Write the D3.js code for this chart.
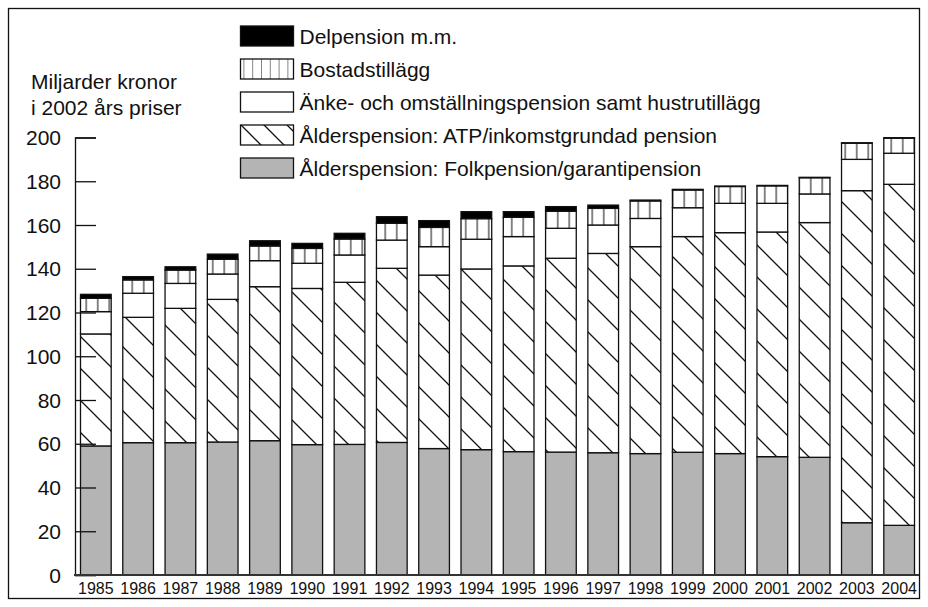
<html>
<head>
<meta charset="utf-8">
<script src="https://d3js.org/d3.v7.min.js"></script>
<style>
	body { margin: 0; background: white; }
	text { font-family: "Liberation Sans", Arial, Helvetica, sans-serif; fill: #111; }
</style>
</head>
<body>
<svg id="plot"></svg>
<script>

	// values, miljarder kronor (2002 prices)
	var years = ["1985","1986","1987","1988","1989","1990","1991","1992","1993","1994",
		"1995","1996","1997","1998","1999","2000","2001","2002","2003","2004"]

	var folkpension = [59.0, 60.5, 60.5, 60.8, 61.4, 59.6, 59.7, 60.6, 57.8, 57.3,
		56.4, 56.2, 55.9, 55.5, 56.1, 55.5, 54.1, 53.8, 23.9, 22.7]
	var atp = [51.2, 57.3, 61.4, 65.2, 70.4, 71.4, 74.1, 79.6, 79.3, 82.6,
		84.9, 88.6, 91.1, 94.6, 98.6, 101.0, 102.7, 107.3, 151.8, 155.9]
	var anke = [10.2, 11.0, 11.4, 11.6, 11.9, 11.5, 12.5, 12.9, 13.0, 13.6,
		13.4, 13.7, 13.0, 12.9, 13.2, 13.4, 13.1, 13.1, 14.3, 14.2]
	var bostad = [6.1, 6.1, 6.1, 6.7, 6.7, 6.8, 7.3, 7.7, 8.8, 9.4,
		8.8, 7.8, 7.6, 8.0, 8.1, 7.7, 8.0, 7.4, 7.4, 6.9]
	var delpension = [1.8, 1.5, 1.5, 2.4, 2.4, 2.3, 2.6, 3.0, 3.1, 3.2,
		2.6, 2.1, 1.5, 0.4, 0.3, 0.2, 0.2, 0.2, 0.2, 0.2]

	var keys = ["folk", "atp", "anke", "bostad", "del"]
	var labels = {
		"folk": "Ålderspension: Folkpension/garantipension",
		"atp": "Ålderspension: ATP/inkomstgrundad pension",
		"anke": "Änke- och omställningspension samt hustrutillägg",
		"bostad": "Bostadstillägg",
		"del": "Delpension m.m."
	}
	var yTicks = [0, 20, 40, 60, 80, 100, 120, 140, 160, 180, 200]
	var titleLines = ["Miljarder kronor", "i 2002 års priser"]

	var width = 928
	var height = 607

	var svg = d3.select("#plot")
		.attr("width", width)
		.attr("height", height)

	// patterns for the hatched fills
	var defs = svg.append("defs")

	var diag = defs.append("pattern")
		.attr("id", "diag")
		.attr("patternUnits", "userSpaceOnUse")
		.attr("width", 32).attr("height", 32)
	diag.append("rect").attr("width", 32).attr("height", 32).attr("fill", "white")
	diag.append("path")
		.attr("d", "M0,0L32,32M-4,28L4,36M28,-4L36,4")
		.attr("stroke", "#111").attr("stroke-width", 1.3)

	var vert = defs.append("pattern")
		.attr("id", "vert")
		.attr("patternUnits", "userSpaceOnUse")
		.attr("width", 11.5).attr("height", 10)
	vert.append("rect").attr("width", 11.5).attr("height", 10).attr("fill", "white")
	vert.append("line")
		.attr("x1", 5.75).attr("x2", 5.75).attr("y1", 0).attr("y2", 10)
		.attr("stroke", "#222").attr("stroke-width", 1.1)

	var fills = {
		"folk": "#b4b4b4",
		"atp": "url(#diag)",
		"anke": "white",
		"bostad": "url(#vert)",
		"del": "#000"
	}

	// outer frame
	svg.append("rect")
		.attr("x", 8.5).attr("y", 8.5)
		.attr("width", 911).attr("height", 590)
		.attr("fill", "none")
		.attr("stroke", "#111")
		.attr("stroke-width", 1.3)

	// table for the stack
	var rows = years.map(function (y, i) {
		return { year: y, folk: folkpension[i], atp: atp[i], anke: anke[i], bostad: bostad[i], del: delpension[i] }
	})
	var stacked = d3.stack().keys(keys)(rows)

	var xScale = d3.scaleBand()
		.domain(years)
		.range([75, 920])
		.paddingInner(0.274)
		.paddingOuter(0.13)

	var yScale = d3.scaleLinear()
		.domain([0, 200])
		.range([575, 137.5])

	// bars
	svg.append("g")
		.selectAll("g")
		.data(stacked)
		.enter().append("g")
		.attr("fill", function (d) { return fills[d.key] })
		.selectAll("rect")
		.data(function (d) { return d })
		.enter().append("rect")
		.attr("x", function (d) { return xScale(d.data.year) })
		.attr("width", xScale.bandwidth())
		.attr("y", function (d) { return yScale(d[1]) })
		.attr("height", function (d) { return yScale(d[0]) - yScale(d[1]) })
		.attr("stroke", "#111")
		.attr("stroke-width", 1.3)

	// y axis, ticks point into the plot
	var yAxis = d3.axisRight(yScale)
		.tickValues(yTicks)
		.tickSize(21)
		.tickFormat("")
	var yg = svg.append("g")
		.attr("transform", "translate(75,0)")
		.call(yAxis)
	yg.select(".domain").attr("stroke", "#111").attr("stroke-width", 1.3)
	yg.selectAll(".tick line").attr("stroke", "#111").attr("stroke-width", 1.3)

	svg.append("g")
		.selectAll("text")
		.data(yTicks)
		.enter().append("text")
		.attr("x", 61)
		.attr("y", function (d) { return yScale(d) })
		.attr("dy", "0.36em")
		.attr("text-anchor", "end")
		.attr("font-size", 21)
		.text(function (d) { return d })

	// baseline running to the frame
	var xg = svg.append("g")
		.attr("transform", "translate(0,575)")
		.call(d3.axisBottom(xScale).tickSize(0).tickPadding(8))
	xg.select(".domain")
		.attr("d", "M74,0H919")
		.attr("stroke", "#333")
		.attr("stroke-width", 2)
	xg.selectAll(".tick text")
		.attr("font-size", 16)
		.attr("font-family", "Liberation Sans, Arial, sans-serif")
		.attr("fill", "#111")

	// axis title
	svg.append("g")
		.selectAll("text")
		.data(titleLines)
		.enter().append("text")
		.attr("x", 31)
		.attr("y", function (d, i) { return 89 + i * 26 })
		.attr("font-size", 21)
		.text(function (d) { return d })

	// legend, top entry first
	var legendKeys = keys.slice().reverse()
	var legendX = 240.5
	var legendY = 26
	var rowGap = 33
	var swW = 53
	var swH = 20

	var ldiag = defs.append("pattern")
		.attr("id", "ldiag")
		.attr("patternUnits", "userSpaceOnUse")
		.attr("patternTransform", "translate(" + legendX + "," + (legendY + 3 * rowGap) + ")")
		.attr("width", 23).attr("height", 23)
	ldiag.append("rect").attr("width", 23).attr("height", 23).attr("fill", "white")
	ldiag.append("path")
		.attr("d", "M0,0L23,23M-4,19L4,27M19,-4L27,4")
		.attr("stroke", "#111").attr("stroke-width", 1.3)

	var lvert = defs.append("pattern")
		.attr("id", "lvert")
		.attr("patternUnits", "userSpaceOnUse")
		.attr("patternTransform", "translate(" + legendX + ",0)")
		.attr("width", 8.8).attr("height", 10)
	lvert.append("rect").attr("width", 8.8).attr("height", 10).attr("fill", "white")
	lvert.append("line")
		.attr("x1", 0).attr("x2", 0).attr("y1", 0).attr("y2", 10)
		.attr("stroke", "#222").attr("stroke-width", 1.1)

	var legendFills = {
		"folk": "#b4b4b4",
		"atp": "url(#ldiag)",
		"anke": "white",
		"bostad": "url(#lvert)",
		"del": "#000"
	}

	var legend = svg.append("g")
		.selectAll("g")
		.data(legendKeys)
		.enter().append("g")
		.attr("transform", function (d, i) {
			return "translate(" + legendX + "," + (legendY + i * rowGap) + ")"
		})

	legend.append("rect")
		.attr("width", swW)
		.attr("height", swH)
		.attr("fill", function (d) { return legendFills[d] })
		.attr("stroke", "#111")
		.attr("stroke-width", 1.3)

	legend.append("text")
		.attr("x", swW + 6)
		.attr("y", swH / 2)
		.attr("dy", "0.36em")
		.attr("font-size", 21)
		.text(function (d) { return labels[d] })

</script>
</body>
</html>
